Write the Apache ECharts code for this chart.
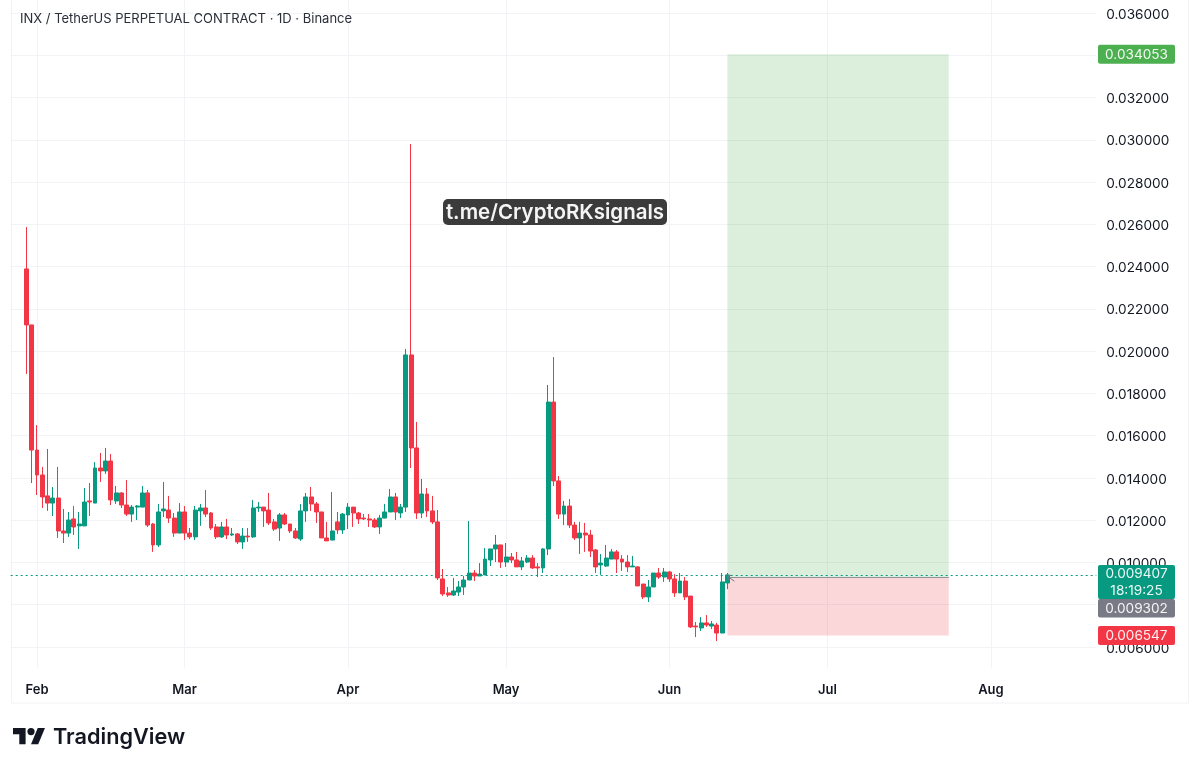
<!DOCTYPE html>
<html><head><meta charset="utf-8">
<style>html,body{margin:0;padding:0;background:#fff}#c{width:1200px;height:768px}</style>
<script src="https://cdn.jsdelivr.net/npm/echarts@6/dist/echarts.min.js"></script>
</head><body><div id="c"></div>
<script>
const opens=[.02389,.02124,.01532,.01414,.01315,.01281,.01305,.01149,.01139,.01206,.01173,.01173,.01291,.01281,.01447,.01433,.01480,.01291,.01329,.01272,.01229,.01262,.01262,.01329,.01182,.01083,.01244,.01248,.01210,.01139,.01239,.01139,.01121,.01244,.01258,.01234,.01168,.01121,.01168,.01130,.01135,.01097,.01125,.01121,.01258,.01262,.01248,.01192,.01163,.01225,.01182,.01149,.01111,.01244,.01310,.01277,.01239,.01116,.01106,.01192,.01154,.01225,.01262,.01234,.01210,.01206,.01201,.01168,.01210,.01239,.01310,.01234,.01262,.01982,.01542,.01234,.01324,.01244,.01192,.00922,.00856,.00846,.00860,.00884,.00917,.00950,.00936,.00941,.01012,.01064,.01083,.01002,.01026,.01012,.00979,.01002,.01021,.00979,.00974,.01064,.01759,.01386,.01229,.01267,.01177,.01116,.01139,.01130,.01059,.00988,.00983,.01016,.01050,.01016,.01002,.00979,.00979,.00898,.00837,.00884,.00950,.00931,.00955,.00922,.00856,.00912,.00841,.00699,.00690,.00714,.00699,.00704,.00666,.00903];
const closes=[.02124,.01532,.01414,.01310,.01281,.01305,.01149,.01139,.01201,.01168,.01182,.01286,.01286,.01447,.01433,.01480,.01296,.01329,.01272,.01229,.01262,.01267,.01329,.01177,.01083,.01239,.01253,.01210,.01139,.01239,.01139,.01121,.01248,.01258,.01229,.01163,.01121,.01168,.01130,.01135,.01097,.01125,.01121,.01258,.01262,.01244,.01187,.01158,.01225,.01182,.01149,.01116,.01244,.01310,.01277,.01239,.01116,.01102,.01149,.01154,.01229,.01262,.01234,.01206,.01206,.01201,.01168,.01210,.01239,.01310,.01239,.01262,.01982,.01542,.01234,.01324,.01244,.01192,.00927,.00851,.00846,.00865,.00884,.00917,.00950,.00936,.00945,.01016,.01064,.01083,.01002,.01026,.01012,.00979,.01007,.01021,.00974,.00974,.01064,.01759,.01386,.01229,.01267,.01177,.01116,.01139,.01130,.01054,.00979,.00997,.01021,.01050,.01016,.01002,.00979,.00983,.00889,.00837,.00884,.00950,.00931,.00955,.00922,.00856,.00912,.00837,.00695,.00695,.00714,.00704,.00709,.00666,.00908,.00941];
const highs=[.02587,.02124,.01650,.01452,.01537,.01357,.01452,.01253,.01239,.01267,.01239,.01352,.01376,.01475,.01518,.01542,.01513,.01362,.01333,.01390,.01272,.01272,.01362,.01343,.01187,.01277,.01381,.01315,.01234,.01281,.01267,.01163,.01267,.01277,.01343,.01239,.01182,.01192,.01206,.01163,.01139,.01163,.01163,.01296,.01286,.01262,.01329,.01206,.01234,.01234,.01182,.01163,.01277,.01329,.01357,.01286,.01239,.01192,.01333,.01239,.01234,.01281,.01262,.01239,.01229,.01229,.01210,.01225,.01277,.01348,.01329,.01277,.02010,.02980,.01665,.01395,.01352,.01315,.01248,.00969,.00884,.00927,.00912,.00936,.01196,.00964,.00997,.01068,.01064,.01130,.01083,.01092,.01045,.01050,.01026,.01035,.01035,.00997,.01068,.01840,.01972,.01409,.01291,.01300,.01192,.01192,.01187,.01154,.01064,.01040,.01083,.01064,.01059,.01035,.01035,.01031,.00983,.00898,.00917,.00950,.00974,.00974,.00960,.00945,.00950,.00931,.00841,.00718,.00742,.00751,.00723,.00714,.00950,.00950];
const lows=[.01892,.01376,.01319,.01258,.01244,.01220,.01116,.01092,.01121,.01130,.01064,.01173,.01220,.01281,.01381,.01419,.01272,.01277,.01258,.01220,.01192,.01201,.01262,.01168,.01050,.01073,.01215,.01187,.01121,.01139,.01106,.01111,.01106,.01173,.01215,.01154,.01111,.01116,.01111,.01125,.01087,.01064,.01097,.01116,.01239,.01168,.01177,.01149,.01102,.01177,.01139,.01111,.01102,.01192,.01244,.01187,.01116,.01102,.01106,.01135,.01135,.01158,.01168,.01182,.01201,.01168,.01163,.01135,.01210,.01239,.01201,.01210,.01239,.01447,.01206,.01210,.01215,.01182,.00917,.00841,.00837,.00841,.00841,.00846,.00917,.00912,.00936,.00941,.00983,.01002,.00974,.00979,.00997,.00979,.00964,.00997,.00969,.00931,.00950,.01035,.01362,.01206,.01177,.01163,.01106,.01040,.01050,.01026,.00950,.00941,.00979,.01016,.00950,.00960,.00955,.00979,.00889,.00827,.00813,.00884,.00922,.00908,.00908,.00837,.00856,.00822,.00690,.00647,.00676,.00695,.00685,.00628,.00666,.00874];
if(new Set([opens.length,closes.length,highs.length,lows.length]).size!==1) throw new Error('len '+[opens.length,closes.length,highs.length,lows.length]);

const firstCandle='2025-01-30', axisStart='2025-01-27', axisDays=207;
const yTicks=[0.006,0.008,0.010,0.012,0.014,0.016,0.018,0.020,0.022,0.024,0.026,0.028,0.030,0.032,0.034,0.036];
const monthLabels={'2025-02-01':'Feb','2025-03-01':'Mar','2025-04-01':'Apr','2025-05-01':'May','2025-06-01':'Jun','2025-07-01':'Jul','2025-08-01':'Aug'};
const lastPrice=0.009407, countdown='18:19:25', entryPrice=0.009302, targetPrice=0.034053, stopPrice=0.006547;
const posStart='2025-06-12', posEnd='2025-07-24';
const titleText='INX / TetherUS PERPETUAL CONTRACT · 1D · Binance';

const dates=[];
for(let i=0;i<axisDays;i++){dates.push(new Date(Date.parse(axisStart+'T00:00:00Z')+i*864e5).toISOString().slice(0,10));}
const offset=dates.indexOf(firstCandle);
const candles=opens.map((o,i)=>[i+offset,o,closes[i],lows[i],highs[i]]);

const UP='#089981',DOWN='#f23645',GRID='#f1f3f6',FONT='Inter, "Liberation Sans", sans-serif';
const chart=echarts.init(document.getElementById('c'),null,{renderer:'canvas'});
const isMonth=(i,v)=>v in monthLabels;
chart.setOption({
 animation:false,backgroundColor:'#fff',
 title:{text:titleText,left:15,top:8,textStyle:{fontFamily:FONT,fontSize:13,fontWeight:400,color:'#2a2e39'}},
 grid:{left:10.7,right:103.7,top:0,height:668,containLabel:false},
 xAxis:{type:'category',data:dates,boundaryGap:false,axisLine:{show:false},axisTick:{show:false},
  axisLabel:{interval:isMonth,formatter:v=>monthLabels[v]||'',margin:16,fontFamily:FONT,fontSize:13,fontWeight:600,color:'#131722',hideOverlap:false},
  splitLine:{show:true,interval:isMonth,lineStyle:{color:GRID,width:1}}},
 yAxis:{type:'value',position:'right',min:0.005006,max:0.036616,scale:true,axisLine:{show:false},
  axisTick:{show:false,customValues:yTicks},
  axisLabel:{customValues:yTicks,margin:10,formatter:v=>'{p|'+v.toFixed(6)+'}',
   rich:{p:{fontFamily:FONT,fontSize:13.6,color:'#131722',padding:[3,0,0,0]}}},
  splitLine:{show:true,lineStyle:{color:GRID,width:1}}},
 series:[
  {type:'line',data:[],z:1,silent:true,
   markArea:{silent:true,z:1,data:[
    [{xAxis:posStart,yAxis:entryPrice,itemStyle:{color:'rgba(76,175,80,0.2)'}},{xAxis:posEnd,yAxis:targetPrice}],
    [{xAxis:posStart,yAxis:stopPrice,itemStyle:{color:'rgba(242,54,69,0.2)'}},{xAxis:posEnd,yAxis:entryPrice}]
   ]},
   markLine:{silent:true,symbol:'none',label:{show:false},z:1,data:[
    [{xAxis:posStart,yAxis:entryPrice,lineStyle:{color:'#8f929b',width:1,type:'solid'}},{xAxis:posEnd,yAxis:entryPrice}]
   ]}},
  {type:'candlestick',z:3,barWidth:4.4,data:candles,
   encode:{x:0,y:[1,2,3,4]},
   itemStyle:{color:UP,color0:DOWN,borderColor:UP,borderColor0:DOWN,borderWidth:1},
   markLine:{silent:true,symbol:'none',label:{show:false},z:2,data:[
    [{xAxis:dates[0],yAxis:lastPrice,lineStyle:{color:UP,width:1.2,type:[2,3]}},{xAxis:dates[axisDays-1],yAxis:lastPrice}]
   ]}}
 ]
});
const yOf=v=>chart.convertToPixel({yAxisIndex:0},v);
const xOf=d=>chart.convertToPixel({xAxisIndex:0},d);
const tag=(top,h,color,lines,dy=0)=>{
 const out=[{type:'rect',z:50,shape:{x:1098,y:top,width:77,height:h,r:2},style:{fill:color}}];
 lines.forEach((t,i)=>out.push({type:'text',z:51,x:1136.5,y:top+(h/lines.length)*(i+.5)+dy+(i===0?.5:0),style:{text:t,fill:'#fff',opacity:.92,font:'13.6px '+FONT,align:'center',verticalAlign:'middle'}}));
 return out;
};
const tY=yOf(lastPrice);
const ax=xOf(posStart), ay=yOf(entryPrice);
const lx=13, ly=724.4, ls=.9;
const logoPts=p=>p.map(q=>[lx+q[0]*ls,ly+q[1]*ls]);
chart.setOption({graphic:[
 {type:'rect',z:0,silent:true,shape:{x:11.5,y:-2,width:1177,height:705},style:{fill:'none',stroke:'#f0f2f6',lineWidth:1}},
 {type:'polyline',z:40,shape:{points:[[ax+7,ay+4],[ax,ay-1]]},style:{stroke:'#787b86',lineWidth:1,fill:'none'}},
 {type:'polyline',z:40,shape:{points:[[ax+4,ay-2],[ax,ay-1],[ax+1,ay+3]]},style:{stroke:'#787b86',lineWidth:1,fill:'none'}},
 ...tag(yOf(targetPrice)-9.5,19,'#4caf50',[targetPrice.toFixed(6)]),
 ...tag(tY-10,34,UP,[lastPrice.toFixed(6),countdown]),
 ...tag(tY+24,18.5,'#787b86',[entryPrice.toFixed(6)]),
 ...tag(yOf(stopPrice)-9.5,19,DOWN,[stopPrice.toFixed(6)]),
 {type:'rect',z:45,shape:{x:443,y:199,width:224,height:26,r:5},style:{fill:'#3b3b3b'}},
 {type:'text',z:46,x:555,y:213,style:{text:'t.me/CryptoRKsignals',fill:'#f5f5f5',font:'600 20.5px '+FONT,align:'center',verticalAlign:'middle'}},
 {type:'polygon',z:10,shape:{points:logoPts([[0,4],[14,4],[14,22],[7,22],[7,11],[0,11]])},style:{fill:'#131722'}},
 {type:'polygon',z:10,shape:{points:logoPts([[27.5,4],[35.5,4],[28,22],[20,22]])},style:{fill:'#131722'}},
 {type:'circle',z:10,shape:{cx:lx+20*ls,cy:ly+8*ls,r:3.6},style:{fill:'#131722'}},
 {type:'text',z:10,x:53,y:737,style:{text:'TradingView',fill:'#131722',font:'600 21.7px '+FONT,align:'left',verticalAlign:'middle'}}
]});
</script></body></html>
